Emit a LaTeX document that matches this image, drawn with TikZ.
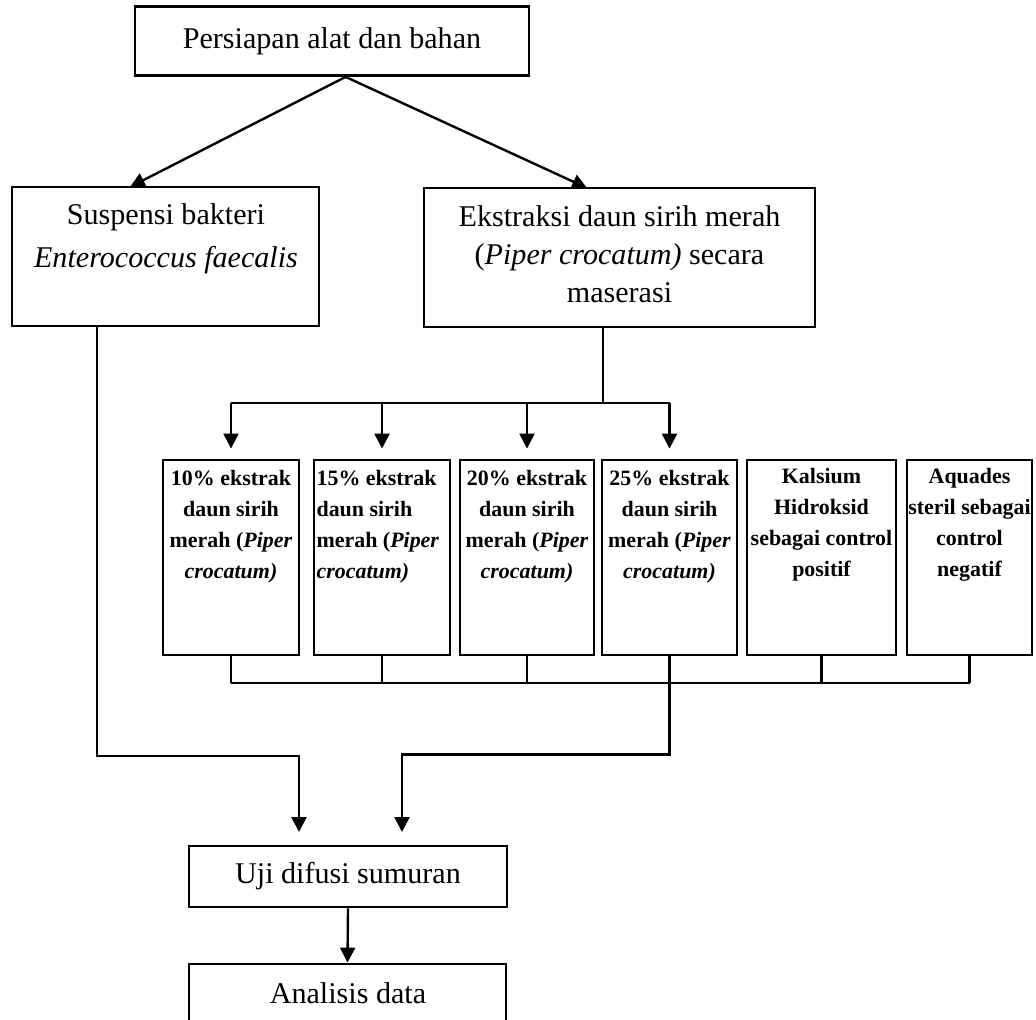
\documentclass[tikz,border=0pt]{standalone}
\usepackage{fontspec}
\setmainfont{Liberation Serif}
\usetikzlibrary{arrows.meta}

\begin{document}
\begin{tikzpicture}[
    x=0.0125cm, y=-0.0125cm,
    step_box/.style={rectangle, draw, line width=1pt, inner sep=0pt},
    big_text/.style={inner sep=0pt, align=center, font=\fontsize{10.7}{15.3}\selectfont},
    small_text/.style={inner sep=0pt, align=center, font=\fontsize{7.8}{11}\selectfont\bfseries},
    conn/.style={line width=0.85pt},
    arrow/.style={line width=0.85pt, -{Triangle[width=5.3pt, length=5.3pt]}}
]
\useasboundingbox (0,0) rectangle (1036,1019);

% Top and second row
\node[step_box, big_text, minimum width=4.925cm, minimum height=0.8625cm] (persiapan) at (332,41) {Persiapan alat dan bahan};
\node[step_box, minimum width=3.8375cm, minimum height=1.7375cm] (suspensi) at (165.5,256.5) {};
\node[big_text, anchor=north] (suspensi_txt) at (166,203) {Suspensi bakteri\\\textit{Enterococcus faecalis}};
\node[step_box, minimum width=4.8875cm, minimum height=1.7375cm] (ekstraksi) at (619.5,257.5) {};
\node[big_text, anchor=north, font=\fontsize{10.7}{13.5}\selectfont] (ekstraksi_txt) at (619.5,205) {Ekstraksi daun sirih merah\\(\textit{Piper crocatum)} secara\\maserasi};

% Concentrations and controls
\node[step_box, minimum width=1.7cm, minimum height=2.4375cm] (b10) at (231,557.5) {};
\node[step_box, minimum width=1.7cm, minimum height=2.4375cm] (b15) at (382,557.5) {};
\node[step_box, minimum width=1.675cm, minimum height=2.4375cm] (b20) at (527,557.5) {};
\node[step_box, minimum width=1.6875cm, minimum height=2.4375cm] (b25) at (669.5,557.5) {};
\node[step_box, minimum width=1.8625cm, minimum height=2.4375cm] (kalsium) at (821.5,557.5) {};
\node[step_box, minimum width=1.5625cm, minimum height=2.4375cm] (aquades) at (969.5,557.5) {};

\node[small_text, anchor=north] (t10) at (231,470) {10\% ekstrak\\daun sirih\\merah (\textit{Piper}\\\textit{crocatum)}};
\node[small_text, anchor=north west, align=left] (t15) at (316,470) {15\% ekstrak\\daun sirih\\merah (\textit{Piper}\\\textit{crocatum)}};
\node[small_text, anchor=north] (t20) at (527,470) {20\% ekstrak\\daun sirih\\merah (\textit{Piper}\\\textit{crocatum)}};
\node[small_text, anchor=north] (t25) at (669.5,470) {25\% ekstrak\\daun sirih\\merah (\textit{Piper}\\\textit{crocatum)}};
\node[small_text, anchor=north] (t_kalsium) at (821.5,468) {Kalsium\\Hidroksid\\sebagai control\\positif};
\node[small_text, anchor=north] (t_aquades) at (969.5,468) {Aquades\\steril sebagai\\control\\negatif};

% Test and analysis
\node[step_box, big_text, minimum width=3.975cm, minimum height=0.7625cm] (uji) at (348,876.5) {Uji difusi sumuran};
\node[step_box, minimum width=3.9625cm, minimum height=1.25cm] (analisis) at (347.5,1014) {};
\node[big_text] (analisis_txt) at (348,993) {Analisis data};

% Split from the top box
\coordinate (susp_in) at (130,187);
\coordinate (ekst_in) at (587,188);
\draw[arrow] ([xshift=0.17cm]persiapan.south) -- (susp_in);
\draw[arrow] ([xshift=0.17cm]persiapan.south) -- (ekst_in);

% Extract to the four concentrations
\coordinate (top_bus) at (603,403);
\draw[conn] (ekstraksi.south -| top_bus) -- (top_bus);
\draw[conn] (b10.north |- top_bus) -- (b25.north |- top_bus);
\foreach \b in {b10,b15,b20,b25}
    \draw[arrow, shorten >=0.125cm] (\b.north |- top_bus) -- (\b.north);

% Lower bus
\coordinate (low_bus) at (0,683);
\foreach \b in {b10,b15,b20,b25,kalsium,aquades}
    \draw[conn] (\b.south) -- (\b.south |- low_bus);
\draw[conn] (b10.south |- low_bus) -- (aquades.south |- low_bus);

% Into the test
\coordinate (susp_out) at (97,326);
\coordinate (uji_in_l) at (299,846);
\coordinate (uji_in_r) at (402,846);
\draw[arrow, shorten >=0.175cm] (susp_out) -- ++(0,430) -| (uji_in_l);
\draw[arrow, shorten >=0.175cm] (b25.south) -- ++(0,98) -| (uji_in_r);
\draw[arrow] (uji.south) -- (analisis.north);

\end{tikzpicture}
\end{document}
